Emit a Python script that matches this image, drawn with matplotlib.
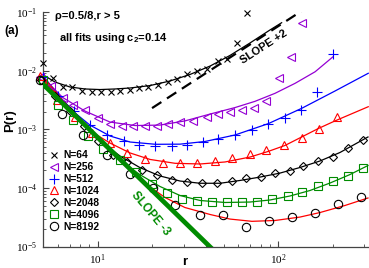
import matplotlib
matplotlib.use("Agg")
import matplotlib.pyplot as plt
import numpy as np
from matplotlib.ticker import LogLocator, FuncFormatter, NullFormatter

plt.rcParams['font.family'] = ['Liberation Sans', 'DejaVu Sans']
plt.rcParams['mathtext.fontset'] = 'custom'
plt.rcParams['mathtext.rm'] = 'Liberation Serif'
plt.rcParams['mathtext.bf'] = 'Liberation Sans:bold'

# ---- data ----
r64 = [4.95, 5.68, 6.40, 7.23, 8.15, 9.27, 10.4, 11.8, 13.3, 15.1, 17.0, 19.1, 21.7, 24.6,
       27.4, 31.2, 35.7, 40.5, 46.4, 52.3, 59.1, 66.8]
p64 = [0.0138, 7.5e-3, 5.33e-3, 5.2e-3, 4.5e-3, 4.39e-3, 4.39e-3, 4.39e-3, 4.5e-3, 4.69e-3,
       5.0e-3, 5.33e-3, 5.7e-3, 6.34e-3, 7.2e-3, 8.8e-3, 9.9e-3, 0.0109, 0.0147, 0.0158,
       0.0297, 0.098]
fit64_r = [5.0, 5.80, 7.03, 8.50, 10.3, 12.5, 15.1, 19.5, 25.1, 32.4, 41.9, 54.0, 69.7, 90.0, 104.4]
fit64_p = [8.45e-3, 6.41e-3, 5.27e-3, 4.88e-3, 4.77e-3, 4.88e-3, 5.07e-3, 5.58e-3, 6.67e-3,
           8.61e-3, 0.0120, 0.0182, 0.0297, 0.0496, 0.0659]

r256 = [4.8, 5.51, 6.40, 7.33, 8.50, 10.1, 11.7, 13.6, 15.7, 18.3, 21.2, 24.6, 28.6, 33.8,
        40.1, 46.2, 54.0, 63.2, 73.6, 86.0, 101, 118, 136]
p256 = [7.8e-3, 5.48e-3, 3.38e-3, 2.60e-3, 2.10e-3, 1.54e-3, 1.22e-3, 1.15e-3, 1.15e-3,
        1.15e-3, 1.16e-3, 1.21e-3, 1.31e-3, 1.36e-3, 1.64e-3, 1.80e-3, 2.0e-3, 2.13e-3,
        2.28e-3, 3.04e-3, 7.6e-3, 0.0173, 0.065]
fit256_r = [5.0, 6.40, 8.50, 11.7, 16.1, 22.1, 30.4, 41.9, 57.6, 74.3, 95.9, 124, 160, 201]
fit256_p = [7.5e-3, 3.49e-3, 2.05e-3, 1.33e-3, 1.16e-3, 1.18e-3, 1.39e-3, 1.82e-3, 2.35e-3,
            3.0e-3, 4.11e-3, 6.10e-3, 9.6e-3, 0.0173]

r512 = [4.95, 6.03, 7.39, 9.06, 11.2, 13.9, 16.9, 20.9, 25.7, 31.4, 38.4, 46.5, 57.9, 71.5,
        88.1, 108.5, 133.6, 163.8, 200.9]
p512 = [7.8e-3, 3.70e-3, 2.05e-3, 1.18e-3, 8.0e-4, 6.3e-4, 5.40e-4, 5.19e-4, 5.19e-4,
        5.40e-4, 6.0e-4, 6.82e-4, 7.91e-4, 9.73e-4, 1.23e-3, 1.56e-3, 2.13e-3, 4.34e-3, 0.0193]
fit512_r = [5.0, 6.18, 7.49, 9.06, 11.7, 15.1, 20.9, 28.6, 39.3, 57.6, 88.1, 134.8, 206, 315]
fit512_p = [8.1e-3, 3.56e-3, 1.90e-3, 1.18e-3, 7.69e-4, 6.07e-4, 5.55e-4, 5.58e-4, 6.2e-4,
            8.0e-4, 1.25e-3, 2.28e-3, 4.5e-3, 9.04e-3]

r1024 = [4.79, 5.99, 7.49, 9.36, 11.7, 14.6, 18.3, 23.1, 28.6, 35.7, 44.6, 55.4, 69.3, 86.0,
         107.6, 134.8, 168, 210.6]
p1024 = [8.1e-3, 3.16e-3, 1.62e-3, 8.65e-4, 5.77e-4, 4.02e-4, 3.06e-4, 2.63e-4, 2.62e-4,
         2.63e-4, 2.91e-4, 3.24e-4, 3.78e-4, 4.52e-4, 5.33e-4, 7.05e-4, 1.01e-3, 1.64e-3]
fit1024_r = [5.0, 6.18, 7.49, 9.30, 11.7, 15.1, 19.5, 26.8, 36.9, 50.7, 69.7, 87.7, 108.9,
             134.8, 166.5, 206, 315]
fit1024_p = [7.8e-3, 3.56e-3, 1.75e-3, 9.0e-4, 5.83e-4, 3.95e-4, 3.06e-4, 2.63e-4, 2.56e-4,
             2.77e-4, 3.36e-4, 4.18e-4, 5.30e-4, 7.40e-4, 1.03e-3, 1.39e-3, 2.43e-3]

r2048 = [4.84, 5.82, 7.01, 8.43, 10.1, 12.2, 14.6, 17.7, 21.2, 25.7, 31.2, 37.7, 45.6, 55.2,
         66.0, 80.2, 95.9, 116.1, 137.5, 166.5, 201.6, 244.1, 295.6]
p2048 = [6.93e-3, 3.70e-3, 2.05e-3, 1.14e-3, 6.3e-4, 3.64e-4, 2.77e-4, 2.02e-4, 1.69e-4,
         1.36e-4, 1.24e-4, 1.19e-4, 1.2e-4, 1.30e-4, 1.46e-4, 1.55e-4, 1.77e-4, 1.97e-4,
         2.34e-4, 2.84e-4, 3.40e-4, 4.89e-4, 6.7e-4]
fit2048_r = [5.0, 6.18, 7.49, 9.06, 11.0, 13.3, 17.1, 22.1, 28.6, 36.9, 47.6, 61.4, 79.2,
             102.2, 131.9, 170.2, 219.6, 313.9]
fit2048_p = [6.93e-3, 3.42e-3, 1.90e-3, 1.01e-3, 5.40e-4, 3.50e-4, 2.23e-4, 1.60e-4, 1.31e-4,
             1.20e-4, 1.20e-4, 1.34e-4, 1.53e-4, 1.79e-4, 2.23e-4, 2.88e-4, 4.02e-4, 7.40e-4]

r4096 = [5.0, 6.05, 7.33, 8.87, 10.7, 13.3, 16.3, 19.9, 24.1, 29.2, 35.3, 42.8, 51.8, 62.7,
         75.9, 92.6, 112.7, 135.8, 166.5, 201.6, 244.1, 295.6]
p4096 = [6.93e-3, 2.60e-3, 1.44e-3, 7.69e-4, 4.67e-4, 2.94e-4, 1.87e-4, 1.18e-4, 8.34e-5,
         6.59e-5, 5.98e-5, 5.81e-5, 5.81e-5, 5.81e-5, 5.81e-5, 6.47e-5, 7.36e-5, 8.41e-5,
         1.09e-4, 1.33e-4, 1.61e-4, 2.16e-4]
fit4096_r = [5.0, 6.18, 7.49, 9.06, 11.0, 13.3, 17.1, 22.1, 28.6, 36.9, 50.7, 69.7, 90.0,
             116.1, 149.8, 193.3, 249.4, 313.9]
fit4096_p = [6.93e-3, 3.29e-3, 1.75e-3, 9.35e-4, 4.99e-4, 2.99e-4, 1.69e-4, 1.06e-4, 7.41e-5,
             6.10e-5, 5.64e-5, 5.74e-5, 6.22e-5, 7.28e-5, 9.03e-5, 1.21e-4, 1.69e-4, 2.41e-4]

r8192 = [4.79, 6.32, 8.32, 11.3, 15.1, 20.2, 26.8, 36.9, 49.6, 66.2, 88.8, 118.7, 159.7, 214.8, 287]
p8192 = [6.93e-3, 1.82e-3, 8.0e-4, 3.64e-4, 1.73e-4, 9.95e-5, 5.1e-5, 3.48e-5, 3.45e-5,
         2.18e-5, 2.75e-5, 3.15e-5, 3.73e-5, 5.31e-5, 6.91e-5]
fit8192_r = [5.0, 6.18, 7.49, 9.06, 11.0, 13.3, 16.1, 19.5, 23.6, 30.4, 41.9, 54.0, 71.5,
             95.9, 131.9, 170.2, 234, 313.9]
fit8192_p = [6.93e-3, 3.42e-3, 1.82e-3, 9.73e-4, 5.19e-4, 2.88e-4, 1.66e-4, 1.04e-4, 6.86e-5,
             4.63e-5, 3.52e-5, 2.94e-5, 2.69e-5, 2.78e-5, 3.18e-5, 3.80e-5, 5.01e-5, 6.73e-5]

slope2_r = [20, 140]
slope2_p = [2.3e-3, 0.113]
slope3_r = [4.5, 45]
slope3_p = [7.96e-3, 7.96e-6]

labels = ["N=64", "N=256", "N=512", "N=1024", "N=2048", "N=4096", "N=8192"]

# ---- styles ----
violeta = '#9400D3'
verde = '#008B00'
series = [
    (r64, p64, 'x', 'black', 5.0),
    (r256, p256, '<', violeta, 6.0),
    (r512, p512, '+', 'blue', 7.0),
    (r1024, p1024, '^', 'red', 6.0),
    (r2048, p2048, 'D', 'black', 4.4),
    (r4096, p4096, 's', verde, 5.2),
    (r8192, p8192, 'o', 'black', 6.0),
]
fits = [
    (fit64_r, fit64_p, 'black'),
    (fit256_r, fit256_p, violeta),
    (fit512_r, fit512_p, 'blue'),
    (fit1024_r, fit1024_p, 'red'),
    (fit2048_r, fit2048_p, 'black'),
    (fit4096_r, fit4096_p, verde),
    (fit8192_r, fit8192_p, 'red'),
]

fig = plt.figure(figsize=(3.69, 2.68), dpi=100)
ax = fig.add_axes([0.1157, 0.0802, 0.8843, 0.8746])

for fr, fp, cor in fits:
    ax.plot(fr, fp, color=cor, lw=0.9, zorder=2)

handles = []
for i in range(len(series)):
    rr, pp, mk, cor, ms = series[i]
    h, = ax.plot(rr, pp, linestyle='none', marker=mk, markersize=ms, markerfacecolor='none',
                 markeredgecolor=cor, markeredgewidth=0.8, label=labels[i], clip_on=False, zorder=3)
    handles.append(h)

ax.plot(slope3_r, slope3_p, color=verde, lw=3.4, zorder=4, solid_capstyle='butt')
ax.plot(slope2_r, slope2_p, color='black', lw=1.6, linestyle=(0, (5, 3)), zorder=4)

ax.set_xscale('log')
ax.set_yscale('log')
ax.set_xlim(4.96, 318)
ax.set_ylim(1e-5, 1e-1)

ax.spines['top'].set_visible(False)
ax.spines['right'].set_visible(False)
for s in ['left', 'bottom']:
    ax.spines[s].set_color('#444444')
    ax.spines[s].set_linewidth(0.9)

fmt = FuncFormatter(lambda v, pos: r'$\mathrm{10^{%d}}$' % int(round(np.log10(v))))
ax.xaxis.set_major_formatter(fmt)
ax.yaxis.set_major_formatter(fmt)
ax.xaxis.set_minor_locator(LogLocator(base=10, subs=np.arange(2, 10)))
ax.yaxis.set_minor_locator(LogLocator(base=10, subs=np.arange(2, 10)))
ax.xaxis.set_minor_formatter(NullFormatter())
ax.yaxis.set_minor_formatter(NullFormatter())
ax.tick_params(which='major', direction='in', length=4, width=0.8, color='#444444',
               labelsize=8, pad=4)
ax.tick_params(which='minor', direction='in', length=2, width=0.6, color='#444444')

ax.legend(handles=handles, loc='upper left', bbox_to_anchor=(0.02, 0.41), frameon=False,
          prop={'weight': 'bold', 'size': 7.4}, handlelength=1.0,
          handletextpad=0.4, labelspacing=0.18, borderpad=0, borderaxespad=0)

ax.text(0.038, 0.983, "\u03c1=0.5/8,r > 5", transform=ax.transAxes, fontsize=8,
        fontweight='bold', va='center', ha='left')
ax.text(0.050, 0.89, r"all fits using c$_{\mathbf{2}}$=0.14", transform=ax.transAxes,
        fontsize=8, fontweight='bold', va='center', ha='left')
ax.text(83.4, 0.0253, "SLOPE +2", fontsize=8, fontweight='bold', rotation=33,
        ha='center', va='center', zorder=5)
ax.text(19.7, 3.59e-5, "SLOPE -3", fontsize=8.5, fontweight='bold', rotation=-50,
        color=verde, ha='center', va='center', zorder=5)

fig.text(0.0325, 0.884, "(a)", fontsize=8.5, fontweight='bold', ha='center', va='center')
fig.text(0.027, 0.55, "P(r)", fontsize=9.5, fontweight='bold', rotation=90,
         ha='center', va='center')
fig.text(0.501, 0.022, "r", fontsize=9.5, fontweight='bold', ha='center', va='center')

fig.savefig("out.png", dpi=100)
